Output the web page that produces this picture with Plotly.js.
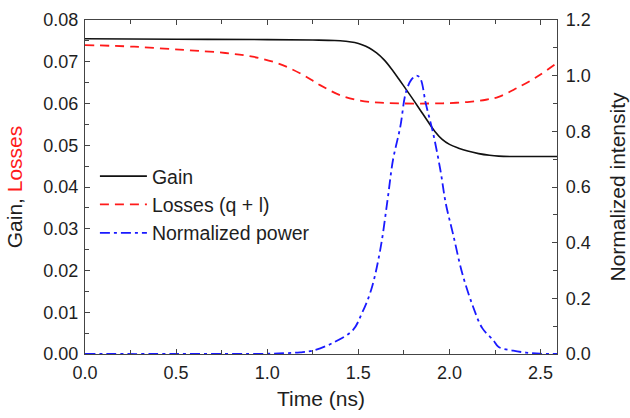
<!DOCTYPE html>
<html>
<head>
<meta charset="utf-8">
<script src="https://cdn.plot.ly/plotly-3.0.1.min.js"></script>
<style>html,body{margin:0;padding:0;background:#fff;}#chart{width:630px;height:418px;}</style>
</head>
<body>
<div id="chart"></div>
<script>
// Gain (left axis)
const gainT = [0, 0.5, 1.0, 1.25, 1.37, 1.43, 1.48, 1.52, 1.56, 1.60, 1.64, 1.68, 1.72, 1.76, 1.80, 1.84, 1.88, 1.92, 1.96, 2.00, 2.05, 2.10, 2.16, 2.22, 2.27, 2.35, 2.45, 2.59];
const gainV = [0.0755, 0.0754, 0.0753, 0.0752, 0.0751, 0.0749, 0.0746, 0.0741, 0.0733, 0.0721, 0.0705, 0.0684, 0.0660, 0.0635, 0.0610, 0.0584, 0.0558, 0.0533, 0.0514, 0.0502, 0.0493, 0.0486, 0.0480, 0.0476, 0.0474, 0.0473, 0.0473, 0.0473];
// Losses (q + l) (left axis)
const lossT = [0, 0.27, 0.55, 0.77, 0.92, 1.06, 1.19, 1.29, 1.40, 1.51, 1.62, 1.75, 1.89, 2.00, 2.11, 2.20, 2.27, 2.37, 2.48, 2.59];
const lossV = [0.0740, 0.0736, 0.0728, 0.0721, 0.0712, 0.0696, 0.0670, 0.0644, 0.0620, 0.0607, 0.0602, 0.0600, 0.0600, 0.0601, 0.0604, 0.0609, 0.0616, 0.0637, 0.0664, 0.0697];
// Normalized power (right axis)
const powT = [0, 0.5, 1.0, 1.10, 1.18, 1.25, 1.36, 1.47, 1.52, 1.57, 1.62, 1.66, 1.69, 1.73, 1.76, 1.79, 1.82, 1.84, 1.87, 1.91, 1.95, 1.98, 2.02, 2.07, 2.13, 2.18, 2.24, 2.27, 2.35, 2.42, 2.50, 2.59];
const powV = [0, 0, 0.001, 0.003, 0.006, 0.012, 0.04, 0.086, 0.147, 0.23, 0.374, 0.553, 0.697, 0.816, 0.938, 0.985, 1.0, 0.99, 0.90, 0.794, 0.661, 0.54, 0.43, 0.29, 0.169, 0.093, 0.05, 0.025, 0.012, 0.005, 0.001, 0];

const names = ['Gain', 'Losses (q + l)', 'Normalized power'];

const traces = [
  {x: gainT, y: gainV, name: names[0], mode: 'lines', line: {color: '#111111', width: 1.6, shape: 'spline'}, xaxis: 'x', yaxis: 'y'},
  {x: lossT, y: lossV, name: names[1], mode: 'lines', line: {color: '#ff1a1a', width: 1.8, dash: '9px,6px', shape: 'spline'}, xaxis: 'x', yaxis: 'y'},
  {x: powT, y: powV, name: names[2], mode: 'lines', line: {color: '#1a1aff', width: 1.8, dash: '10px,4px,3px,4px', shape: 'spline'}, xaxis: 'x', yaxis: 'y2'}
];

const fontFam = 'Liberation Sans, Arial, sans-serif';
const axCol = '#444444';
const txtCol = '#1e1e1e';
const layout = {
  width: 630, height: 418,
  margin: {l: 85, r: 73, t: 20, b: 64},
  paper_bgcolor: '#ffffff', plot_bgcolor: '#ffffff',
  font: {family: fontFam, size: 18, color: txtCol},
  showlegend: true,
  legend: {x: 0.021, y: 0.59, xanchor: 'left', yanchor: 'top', bgcolor: 'rgba(0,0,0,0)', font: {size: 19.5, color: txtCol}, tracegroupgap: 0, itemwidth: 47},
  xaxis: {
    range: [0, 2.59], dtick: 0.5, tick0: 0, tickformat: '.1f',
    ticks: 'inside', ticklen: 5, tickcolor: axCol, tickwidth: 1,
    minor: {dtick: 0.25, ticks: 'inside', ticklen: 4, tickcolor: axCol},
    showline: true, linecolor: axCol, linewidth: 1.2, mirror: 'ticks',
    showgrid: false, zeroline: false, ticklabelstandoff: 2,
    title: {text: 'Time (ns)', font: {size: 21, color: txtCol}, standoff: 9},
    tickfont: {size: 18}
  },
  yaxis: {
    range: [0, 0.08], dtick: 0.01, tick0: 0, tickformat: '.2f',
    ticks: 'inside', ticklen: 5, tickcolor: axCol,
    minor: {dtick: 0.005, ticks: 'inside', ticklen: 4, tickcolor: axCol},
    showline: true, linecolor: axCol, linewidth: 1.2,
    showgrid: false, zeroline: false, ticklabelstandoff: 2,
    title: {text: 'Gain, <span style="color:#ff1a1a">Losses</span>', font: {size: 21, color: txtCol}, standoff: 14},
    tickfont: {size: 18}
  },
  yaxis2: {
    overlaying: 'y', side: 'right',
    range: [0, 1.2], dtick: 0.2, tick0: 0, tickformat: '.1f',
    ticks: 'inside', ticklen: 5, tickcolor: axCol,
    minor: {dtick: 0.1, ticks: 'inside', ticklen: 4, tickcolor: axCol},
    showline: true, linecolor: axCol, linewidth: 1.2,
    showgrid: false, zeroline: false, ticklabelstandoff: 4,
    title: {text: 'Normalized intensity', font: {size: 21, color: txtCol}, standoff: 20},
    tickfont: {size: 18}
  }
};

Plotly.newPlot('chart', traces, layout, {staticPlot: true, displayModeBar: false});
</script>
</body>
</html>
